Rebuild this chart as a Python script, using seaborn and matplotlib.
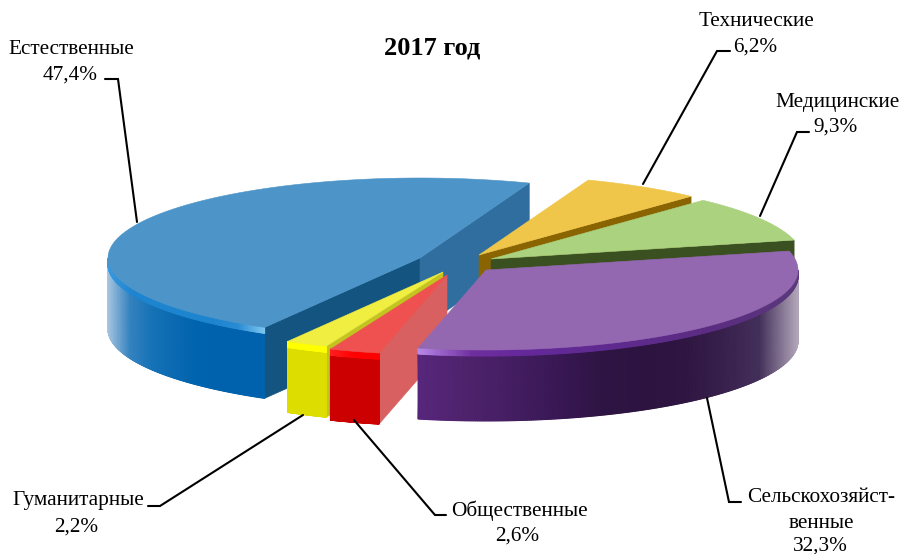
#!/usr/bin/env python3
"""Объёмная разрезанная круговая диаграмма, 2017 год"""
import numpy as np
import matplotlib.pyplot as plt
from matplotlib.patches import Polygon
import seaborn as sns

sns.set_theme(style='white')
plt.rcParams['font.family'] = ['Liberation Serif', 'DejaVu Serif']

# данные
categories = ['Естественные', 'Гуманитарные', 'Общественные',
              'Сельскохозяйственные', 'Медицинские', 'Технические']
values = [47.4, 2.2, 2.6, 32.3, 9.3, 6.2]

# стили секторов
top_colors = ['#4d94c8', '#f0ee40', '#ef5050', '#9468b0', '#abd27f', '#f0c64a']
cut_cw_colors = ['#2f6e9e', '#c4c420', '#d86060', '#6a2a9a', '#3b5020', '#8a6400']
cut_ccw_colors = ['#135480', '#c4c420', '#d86060', '#6a2a9a', '#3b5020', '#8a6400']
bevel_stops = [
    ['#3a9ae0', '#1d84cf', '#1d84cf', '#1d84cf', '#1d84cf', '#2a8cd4', '#7cc6f0'],
    ['#ffff00', '#ffff00'],
    ['#ff2020', '#ff0000', '#ff0000'],
    ['#b888e8', '#6f2e9e', '#64289a', '#602a92', '#5e2a8c', '#5c2c84', '#5a2f7e', '#5a3a7c'],
    ['#3b5020', '#3b5020'],
    ['#8a6400', '#8a6400'],
]
wall_stops = [
    ['#a8c6e0', '#3582bf', '#1572b6', '#0a69b1', '#0063ad', '#0062ac', '#0062ac', '#0062ac'],
    ['#dddd00', '#dddd00'],
    ['#cc0000', '#cc0000'],
    ['#57267c', '#50236f', '#482066', '#3f1b5c', '#361650', '#2d1442', '#2c1340', '#2e1542',
     '#38204c', '#43305a', '#b0a4b8'],
    ['#3b5020', '#3b5020'],
    ['#8a6400', '#8a6400'],
]
centers = [(420, 258), (443, 272), (447, 275), (486, 270), (491, 259), (479, 255)]
draw_order = [0, 5, 4, 1, 2, 3]

START_ANGLE = 69.5
RX, RY = 312, 80
DEPTH = 71
BEVEL = 6

edges = START_ANGLE + np.concatenate([[0], np.cumsum(values)]) * 3.6


def rim(center, t, dy=0):
    t = np.radians(t)
    return np.column_stack([center[0] + RX * np.cos(t), center[1] - RY * np.sin(t) + dy])


def draw_cut(ax, center, t, color):
    p = rim(center, [t])[0]
    ax.add_patch(Polygon([center, p, (p[0], p[1] + DEPTH), (center[0], center[1] + DEPTH)],
                         closed=True, fc=color, ec=color, lw=0.4))


def draw_band(ax, center, arc, dy0, dy1, stops):
    # полоса вдоль дуги с горизонтальным градиентом
    a = rim(center, arc, dy0)
    b = rim(center, arc, dy1)
    X = np.vstack([a[:, 0], b[:, 0]])
    Y = np.vstack([a[:, 1], b[:, 1]])
    C = (X - X.min()) / (X.max() - X.min())
    ax.pcolormesh(X, Y, C, shading='gouraud', vmin=0, vmax=1,
                  cmap=sns.blend_palette(stops, as_cmap=True))


fig, ax = plt.subplots(figsize=(9.03, 5.54), dpi=100)
fig.subplots_adjust(0, 0, 1, 1)
ax.axis('off')

for i in draw_order:
    t0, t1 = edges[i], edges[i + 1]
    c = centers[i]

    # срезы сектора, только обращённые к зрителю
    if np.sin(np.radians(t1 + 90)) < 0:
        draw_cut(ax, c, t1, cut_ccw_colors[i])
    if np.sin(np.radians(t0 - 90)) < 0:
        draw_cut(ax, c, t0, cut_cw_colors[i])

    # внешняя стенка и фаска
    w0, w1 = max(t0, 180), min(t1, 360)
    if w1 > w0:
        arc = np.linspace(w0, w1, 300)
        draw_band(ax, c, arc, BEVEL, DEPTH, wall_stops[i])
        draw_band(ax, c, arc, 0, BEVEL, bevel_stops[i])

    # верхняя грань
    arc = np.linspace(t0, t1, 200)
    ax.add_patch(Polygon(np.vstack([[c], rim(c, arc)]), closed=True,
                         fc=top_colors[i], ec=top_colors[i], lw=0.4))

# подписи
pct = [f'{v:.1f}%'.replace('.', ',') for v in values]
label_lines = [
    (71.5, 49, 'Естественные'), (70, 75, pct[0]),
    (756.5, 22, 'Технические'), (755, 47, pct[5]),
    (837.5, 103, 'Медицинские'), (836, 127, pct[4]),
    (821, 498, 'Сельскохозяйст-'), (821, 523, 'венные'), (820, 546, pct[3]),
    (78, 501, 'Гуманитарные'), (76, 527, pct[1]),
    (519, 511, 'Общественные'), (517.5, 536, pct[2]),
]
for x, y, s in label_lines:
    ax.text(x, y, s, fontsize=15.3, color='black', ha='center', va='center')
ax.text(432.5, 48, '2017 год', fontsize=19, fontweight='bold', color='black', ha='center', va='center')

# выноски
leaders = [
    ([105, 118, 137], [79, 79, 222]),
    ([730, 717, 643], [51, 51, 184]),
    ([809, 797, 760], [132, 132, 216]),
    ([741, 729, 707], [502, 502, 398]),
    ([148, 160, 303], [506, 506, 415]),
    ([446, 435, 354], [515, 515, 420]),
]
for xs, ys in leaders:
    ax.plot(xs, ys, color='black', lw=1.5, solid_joinstyle='miter')

ax.set_xlim(0, 903)
ax.set_ylim(554, 0)
plt.savefig('out.png', dpi=100)
